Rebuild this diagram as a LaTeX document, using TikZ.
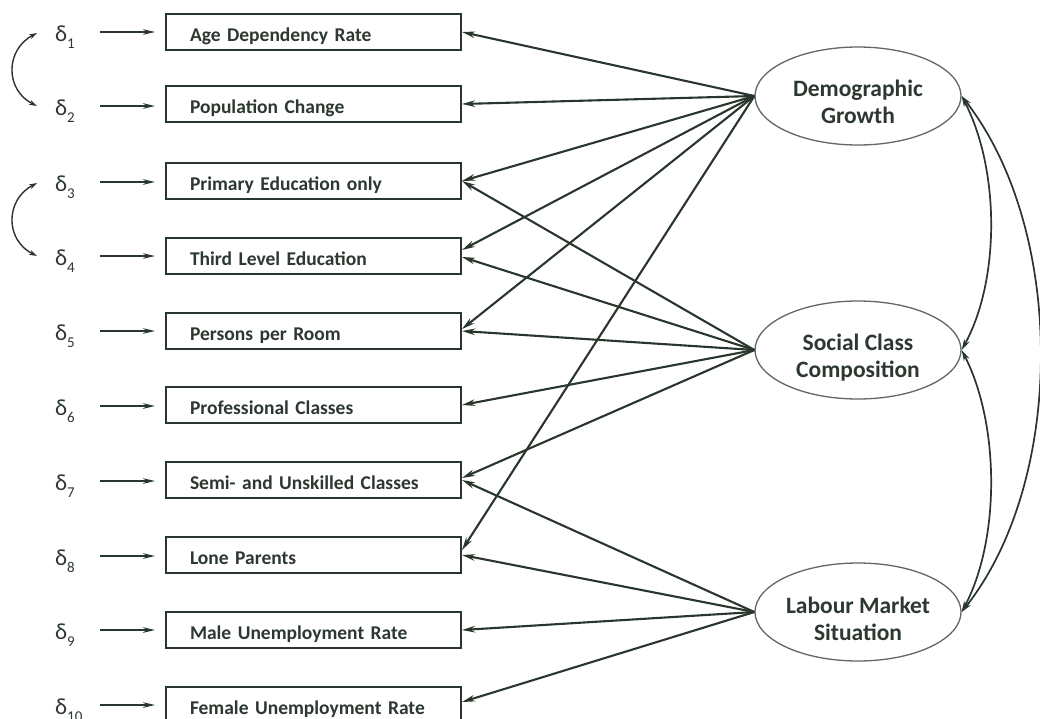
\documentclass[tikz,border=0pt]{standalone}
\usepackage{fontspec}
\setmainfont{Carlito}
\usetikzlibrary{arrows.meta,shapes.geometric}
\definecolor{ink}{RGB}{40,54,44}
\definecolor{ellc}{RGB}{95,105,98}
\definecolor{txt}{RGB}{44,56,48}
\begin{document}
\begin{tikzpicture}[x=1pt,y=-1pt,
  obs/.style={draw=ink,line width=2pt,minimum height=36pt,text width=247pt,inner xsep=24pt,inner ysep=0pt,align=left,text height=18pt,text depth=0pt,font=\bfseries\fontsize{19.5}{22}\selectfont,text=txt},
  lat/.style={draw=ellc,line width=1.3pt,ellipse,minimum width=206pt,minimum height=98pt,inner sep=0pt},
  lattext/.style={align=center,font=\bfseries\fontsize{23.5}{27}\selectfont,text=txt,inner sep=0pt,anchor=north},
  err/.style={font=\fontsize{23}{24}\selectfont,text=txt,inner sep=0pt,anchor=base west},
  conn/.style={draw=ink,line width=2.1pt,-{Stealth[length=13pt,width=6.5pt]}},
  econn/.style={draw=ink,line width=2pt,-{Stealth[length=12pt,width=5.5pt]}},
  cov/.style={draw=ink,line width=1.7pt,{Stealth[length=11pt,width=6pt]}-{Stealth[length=11pt,width=6pt]}},
  lcov/.style={draw=ink,line width=1.4pt,{Stealth[length=8pt,width=5pt]}-{Stealth[length=8pt,width=5pt]}},
]
\useasboundingbox (0,0) rectangle (1040,718);
\fill[white] (0,0) rectangle (1040,718);

% observed variables
\foreach \i/\y/\t in {1/32/Age Dependency Rate,2/104/Population Change,3/181/Primary Education only,4/256/Third Level Education,5/331/Persons per Room,6/405/Professional Classes,7/480/Semi- and Unskilled Classes,8/555/Lone Parents,9/630/Male Unemployment Rate,10/705/Female Unemployment Rate}
  {\node[obs] (b\i) at (313.5,\y) {\t};}

% error terms
\foreach \i/\y in {1/32,2/106,3/182,4/256,5/331,6/406,7/481,8/556,9/630,10/705}
  {\node[err] (d\i) at (55,\y+9) {δ\raisebox{-7pt}{\fontsize{15}{15}\selectfont\i}};
   \coordinate (ds\i) at (100,\y);
   \coordinate (de\i) at (155,\y);
   \draw[econn] (ds\i) -- (de\i);}

% error covariances
\coordinate (c1t) at (37,33); \coordinate (c1b) at (37,106);
\coordinate (c3t) at (37,183); \coordinate (c3b) at (37,256);
\draw[lcov] (c1b) .. controls (5,90) and (5,50) .. (c1t);
\draw[lcov] (c3b) .. controls (5,240) and (5,200) .. (c3t);

% latent variables
\node[lat] (dg) at (858,96) {};
\node[lat] (sc) at (858,350) {};
\node[lat] (lm) at (858,612) {};
\node[lattext] (dgt) at (858,80) {Demographic\\Growth};
\node[lattext] (sct) at (858,334) {Social Class\\Composition};
\node[lattext] (lmt) at (858,597) {Labour Market\\Situation};

% loadings
\draw[conn] (dg.west) -- (b1.east);
\draw[conn] (dg.west) -- (b2.east);
\draw[conn] (dg.west) -- (b3.east);
\draw[conn] (dg.west) -- ([yshift=6pt]b4.east);
\draw[conn] (dg.west) -- ([yshift=2pt]b5.east);
\draw[conn] (dg.west) -- ([yshift=5pt]b8.east);

\draw[conn] (sc.west) -- (b3.east);
\draw[conn] (sc.west) -- ([yshift=-1pt]b4.east);
\draw[conn] (sc.west) -- (b5.east);
\draw[conn] (sc.west) -- (b6.east);
\draw[conn] (sc.west) -- ([yshift=2pt]b7.east);

\draw[conn] (lm.west) -- (b7.east);
\draw[conn] (lm.west) -- (b8.east);
\draw[conn] (lm.west) -- (b9.east);
\draw[conn] (lm.west) -- ([yshift=3pt]b10.east);

% latent covariances
\draw[cov] (dg.east) .. controls (1000,170) and (1000,280) .. (sc.east);
\draw[cov] (sc.east) .. controls (1000,425) and (1000,540) .. (lm.east);
\draw[cov] (dg.east) .. controls (1066,230) and (1066,480) .. (lm.east);
\end{tikzpicture}
\end{document}
